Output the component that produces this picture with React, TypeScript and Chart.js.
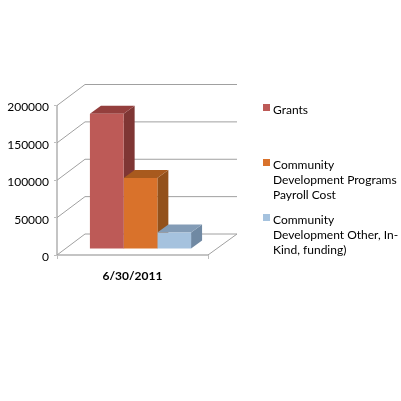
import { useEffect, useRef } from 'react'
import { Chart, registerables } from 'chart.js'
import type { Plugin } from 'chart.js'

Chart.register(...registerables)

const categories = ['6/30/2011']
const grants = [181000]
const payroll = [95000]
const other = [22000]

const legendLines = [
  ['Grants'],
  ['Community', 'Development Programs', 'Payroll Cost'],
  ['Community', 'Development Other, In-', 'Kind, funding)'],
]
const legendTops = [109, 164, 219]

const FONT = 'Lato, "Open Sans", sans-serif'
// floor depth of the fake 3D box, and how far the bars sit inside it
const WALL_DX = 28
const WALL_DY = -21
const BAR_DX = 8
const BAR_DY = -6
const SIDE_DX = 11
const SIDE_DY = -8

const faces = [
  { front: '#bd5a57', top: '#943f3d', side: '#7f3634' },
  { front: '#d9722b', top: '#a85a1e', side: '#93511b' },
  { front: '#a5c2de', top: '#839cb6', side: '#7089a3' },
]

function poly(ctx: CanvasRenderingContext2D, color: string, pts: number[][]) {
  ctx.fillStyle = color
  ctx.beginPath()
  pts.forEach(([x, y], i) => (i ? ctx.lineTo(x, y) : ctx.moveTo(x, y)))
  ctx.closePath()
  ctx.fill()
}

/** Back wall, side wall and floor lines, taken from the y scale ticks. */
const wallsPlugin: Plugin<'bar'> = {
  id: 'walls',
  beforeDatasetsDraw(chart) {
    const { ctx, chartArea, scales } = chart
    const { left, right } = chartArea
    const y = scales.y
    ctx.save()
    ctx.strokeStyle = '#a0a0a0'
    ctx.lineWidth = 1
    y.ticks.forEach((t) => {
      const py = y.getPixelForValue(t.value)
      ctx.beginPath()
      ctx.moveTo(left, py)
      ctx.lineTo(left + WALL_DX, py + WALL_DY)
      ctx.lineTo(right + WALL_DX + 1, py + WALL_DY)
      ctx.stroke()
    })
    const base = y.getPixelForValue(0)
    ctx.beginPath()
    ctx.moveTo(right, base)
    ctx.lineTo(right + WALL_DX + 1, base + WALL_DY)
    ctx.stroke()
    ctx.restore()
  },
}

/** Top and side faces go down first, left bar to right, so the fronts land over them. */
const barDepthPlugin: Plugin<'bar'> = {
  id: 'barDepth',
  beforeDatasetsDraw(chart) {
    const { ctx } = chart
    ctx.save()
    ctx.translate(BAR_DX, BAR_DY)
    chart.data.datasets.forEach((_, i) => {
      const c = faces[i]
      chart.getDatasetMeta(i).data.forEach((bar: any) => {
        const l = bar.x - bar.width / 2
        const r = bar.x + bar.width / 2
        poly(ctx, c.side, [
          [r, bar.y],
          [r + SIDE_DX, bar.y + SIDE_DY],
          [r + SIDE_DX, bar.base + SIDE_DY],
          [r, bar.base],
        ])
        poly(ctx, c.top, [
          [l, bar.y],
          [l + SIDE_DX, bar.y + SIDE_DY],
          [r + SIDE_DX, bar.y + SIDE_DY],
          [r, bar.y],
        ])
      })
    })
    ctx.restore()
  },
  beforeDatasetDraw(chart) {
    chart.ctx.save()
    chart.ctx.translate(BAR_DX, BAR_DY)
  },
  afterDatasetDraw(chart) {
    chart.ctx.restore()
  },
}

const legendPlugin: Plugin<'bar'> = {
  id: 'sideLegend',
  afterDraw(chart) {
    const { ctx } = chart
    ctx.save()
    ctx.font = `12px ${FONT}`
    ctx.textBaseline = 'middle'
    legendLines.forEach((lines, i) => {
      const top = legendTops[i]
      ctx.fillStyle = faces[i].front
      ctx.fillRect(263, top - 5, 7, 7)
      ctx.fillStyle = '#000000'
      lines.forEach((line, j) => ctx.fillText(line, 273, top + 1 + j * 15))
    })
    ctx.restore()
  },
}

export default function App() {
  const canvasRef = useRef<HTMLCanvasElement>(null)

  useEffect(() => {
    if (!canvasRef.current) return
    document.body.style.margin = '0'

    const chart = new Chart(canvasRef.current, {
      type: 'bar',
      data: {
        labels: categories,
        datasets: [
          { label: 'Grants', data: grants, backgroundColor: faces[0].front },
          { label: 'Community Development Programs Payroll Cost', data: payroll, backgroundColor: faces[1].front },
          { label: 'Community Development Other, In-Kind, funding)', data: other, backgroundColor: faces[2].front },
        ],
      },
      options: {
        responsive: false,
        animation: false,
        layout: { padding: { top: 105.5, right: 193 } },
        datasets: { bar: { categoryPercentage: 0.67, barPercentage: 1 } },
        plugins: { legend: { display: false }, tooltip: { enabled: false } },
        scales: {
          x: {
            afterFit: (s) => {
              s.height = 146
            },
            grid: { offset: true, drawOnChartArea: false, tickLength: 4, color: '#bdbdbd' },
            border: { color: '#c4c4c4', width: 2 },
            ticks: { color: '#000000', padding: 10, font: { family: FONT, size: 12, weight: 'bold' } },
          },
          y: {
            min: 0,
            max: 200000,
            afterFit: (s) => {
              s.width = 57
            },
            grid: { drawOnChartArea: false, tickLength: 3, color: '#bdbdbd' },
            border: { color: '#c4c4c4', width: 2 },
            ticks: {
              stepSize: 50000,
              color: '#000000',
              padding: 5,
              labelOffset: 2,
              font: { family: FONT, size: 12 },
              callback: (v) => String(v),
            },
          },
        },
      },
      plugins: [wallsPlugin, barDepthPlugin, legendPlugin],
    })

    return () => chart.destroy()
  }, [])

  return <canvas ref={canvasRef} width={401} height={401} style={{ display: 'block' }} />
}
